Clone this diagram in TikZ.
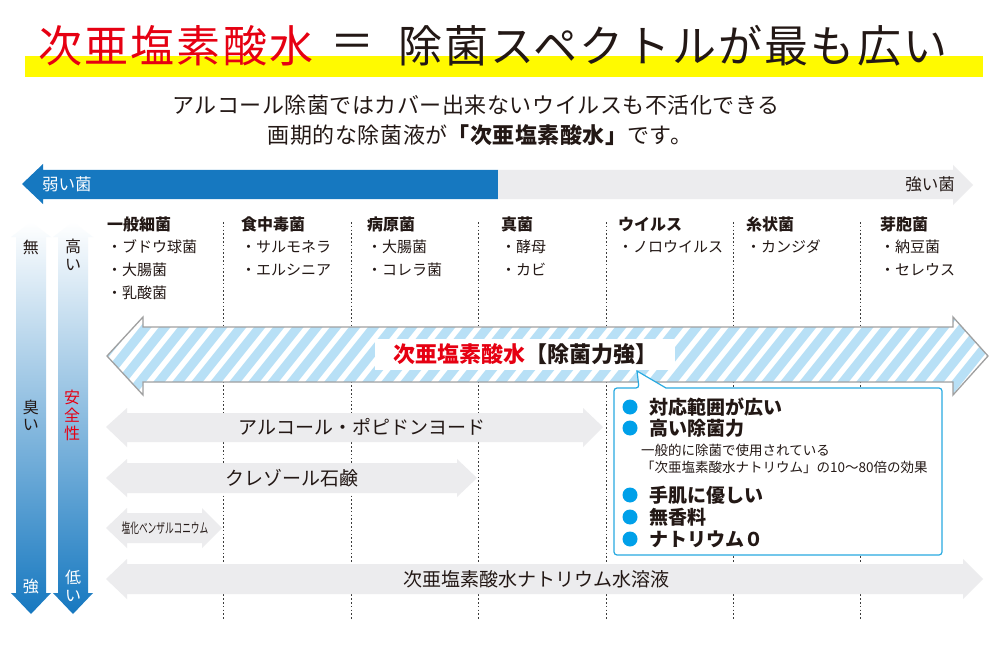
\documentclass[tikz,border=0pt]{standalone}
\usepackage{fontspec}
\setmainfont{Noto Sans CJK JP}
\definecolor{titred}{RGB}{230,0,18}
\definecolor{yel}{RGB}{255,250,0}
\definecolor{barblue}{RGB}{22,120,192}
\definecolor{bargray}{RGB}{236,236,238}
\definecolor{txt}{RGB}{35,24,21}
\definecolor{stripeblue}{RGB}{184,224,246}
\definecolor{outl}{RGB}{160,160,160}
\definecolor{cyanb}{RGB}{0,160,233}
\definecolor{boxb}{RGB}{40,170,225}
\definecolor{dotc}{RGB}{60,60,60}
\definecolor{gradmid}{RGB}{135,188,228}
\tikzset{
  fs/.style={font=\fontsize{#1}{#1}\selectfont},
  fsb/.style={font=\fontsize{#1}{#1}\selectfont\bfseries},
  titlefont/.style={font=\fontsize{44}{44}\selectfont\addfontfeatures{LetterSpace=5}},
  subfont/.style={font=\fontsize{22}{22}\selectfont\addfontfeatures{LetterSpace=2.4}},
  colhead/.style={anchor=west, fsb=16},
  colitem/.style={anchor=west, fs=15},
  divline/.style={dotc, line width=0.9pt, dash pattern=on 1.6pt off 2.2pt},
  grayarr/.style={fill=bargray},
  vshade/.style={top color=white, middle color=gradmid, bottom color=barblue},
  vtext/.style={fs=16, align=center},
  bullet/.style={fill=cyanb},
  pointbig/.style={anchor=west, fsb=19},
  pointsmall/.style={anchor=west, fs=13.5},
}
\begin{document}
\begin{tikzpicture}[x=1pt, y=-1pt, every node/.style={inner sep=0pt, text=txt}]
\useasboundingbox (0,0) rectangle (991,650);
\fill[white] (0,0) rectangle (991,650);

% title
\fill[yel] (25,56) rectangle (983,77);
\node[anchor=west, titlefont, text=titred] (t1) at (38,46) {次亜塩素酸水};
\node[fs=44] (teq) at (352,46) {＝};
\node[anchor=west, titlefont] (t2) at (398,46) {除菌スペクトルが最も広い};

% subtitle
\node[subfont] (s1) at (476,105) {アルコール除菌ではカバー出来ないウイルスも不活化できる};
\node[subfont] (s2) at (480,135) {画期的な除菌液が{\bfseries 「次亜塩素酸水」}です。};

% top bar
\fill[barblue] (22,184) -- (43,164) -- (43,170) -- (498,170) -- (498,199) -- (43,199) -- (43,204) -- cycle;
\fill[bargray] (498,170) -- (953,170) -- (953,165) -- (973,185) -- (953,205) -- (953,199) -- (498,199) -- cycle;
\node[anchor=west, fs=16.5, text=white] (weak) at (42,184.5) {弱い菌};
\node[anchor=east, fs=16.5] (strong) at (955,184.5) {強い菌};

% dotted dividers
\foreach \xx in {223,351,478,606,733,860}
  \draw[divline] (\xx,222) -- (\xx,620);

% column headers and items
\node[colhead] (h1) at (107,224) {一般細菌};
\node[colitem] (h1a) at (107,247) {・ブドウ球菌};
\node[colitem] (h1b) at (107,270) {・大腸菌};
\node[colitem] (h1c) at (107,293) {・乳酸菌};
\node[colhead] (h2) at (241,224) {食中毒菌};
\node[colitem] (h2a) at (241,247) {・サルモネラ};
\node[colitem] (h2b) at (241,270) {・エルシニア};
\node[colhead] (h3) at (367,224) {病原菌};
\node[colitem] (h3a) at (367,247) {・大腸菌};
\node[colitem] (h3b) at (367,270) {・コレラ菌};
\node[colhead] (h4) at (501,224) {真菌};
\node[colitem] (h4a) at (501,247) {・酵母};
\node[colitem] (h4b) at (501,270) {・カビ};
\node[colhead] (h5) at (618,224) {ウイルス};
\node[colitem] (h5a) at (618,247) {・ノロウイルス};
\node[colhead] (h6) at (746,224) {糸状菌};
\node[colitem] (h6a) at (746,247) {・カンジダ};
\node[colhead] (h7) at (880,224) {芽胞菌};
\node[colitem] (h7a) at (880,247) {・納豆菌};
\node[colitem] (h7b) at (880,270) {・セレウス};

% vertical gradient arrows
\shade[vshade] (31,222) -- (51,237) -- (46,237) -- (46,593) -- (51,593) -- (31,614) -- (11,593) -- (16,593) -- (16,237) -- (11,237) -- cycle;
\shade[vshade] (73,222) -- (93,237) -- (88,237) -- (88,593) -- (93,593) -- (73,614) -- (53,593) -- (58,593) -- (58,237) -- (53,237) -- cycle;
\node[vtext] (v1) at (31,247) {無};
\node[fs=16] (v2a) at (73,246) {高};
\node[fs=16] (v2b) at (73,265) {い};
\node[fs=16] (v3a) at (31,407) {臭};
\node[fs=16] (v3b) at (31,425) {い};
\node[fs=16, text=titred] (v4a) at (72,397) {安};
\node[fs=16, text=titred] (v4b) at (72,415) {全};
\node[fs=16, text=titred] (v4c) at (72,433) {性};
\node[fs=16, text=white] (v5) at (31,586) {強};
\node[fs=16, text=white] (v6a) at (73,577) {低};
\node[fs=16, text=white] (v6b) at (73,596) {い};

% striped main arrow
\begin{scope}
  \clip (107,356) -- (143,317) -- (143,327) -- (953,327) -- (953,317) -- (988,356) -- (953,395) -- (953,382) -- (143,382) -- (143,395) -- cycle;
  \fill[stripeblue] (100,310) rectangle (991,400);
  \foreach \i in {40,59,...,1000}
    \draw[white, line width=5.5pt] (\i,400) -- (\i+72,310);
\end{scope}
\draw[outl, line width=1.3pt, line join=miter] (107,356) -- (143,317) -- (143,327) -- (953,327) -- (953,317) -- (988,356) -- (953,395) -- (953,382) -- (143,382) -- (143,395) -- cycle;
\node[fill=white, minimum width=300pt, minimum height=31pt, fsb=22] (lbl) at (525,354.5) {{\color{titred}次亜塩素酸水}【除菌力強】};

% gray arrows
\fill[grayarr] (106,427) -- (127,408) -- (127,413) -- (583,413) -- (583,408) -- (603,427) -- (583,447) -- (583,442) -- (127,442) -- (127,447) -- cycle;
\node[fs=19] (a1) at (362,427) {アルコール・ポピドンヨード};
\fill[grayarr] (106,478) -- (127,459) -- (127,463) -- (457,463) -- (457,459) -- (477,478) -- (457,497) -- (457,493) -- (127,493) -- (127,497) -- cycle;
\node[fs=19] (a2) at (292,478) {クレゾール石鹸};
\fill[grayarr] (106,528) -- (127,508) -- (127,513) -- (202,513) -- (202,508) -- (222,528) -- (202,548) -- (202,543) -- (127,543) -- (127,548) -- cycle;
\node[fs=14] (a3) at (165,528) {\scalebox{0.62}[1]{塩化ベンザルコニウム}};
\fill[grayarr] (106,579) -- (127,559) -- (127,564) -- (963,564) -- (963,559) -- (983,579) -- (963,599) -- (963,594) -- (127,594) -- (127,599) -- cycle;
\node[fs=19] (a4) at (536,579) {次亜塩素酸水ナトリウム水溶液};

% callout
\draw[boxb, line width=1.2pt, fill=white, rounded corners=3pt] (614,388) -- (639,388) [sharp corners] -- (637,371) -- (666,388) [rounded corners=3pt] -- (942,388) -- (942,555) -- (614,555) -- cycle;
\fill[bullet] (630,407) circle (7.5);
\fill[bullet] (630,428) circle (7.5);
\fill[bullet] (630,495) circle (7.5);
\fill[bullet] (630,517) circle (7.5);
\fill[bullet] (630,539) circle (7.5);
\node[pointbig] (p1) at (649,407) {対応範囲が広い};
\node[pointbig] (p2) at (649,428) {高い除菌力};
\node[pointsmall] (p2a) at (641,450) {一般的に除菌で使用されている};
\node[pointsmall] (p2b) at (641,467) {「次亜塩素酸水ナトリウム」の10～80倍の効果};
\node[pointbig] (p3) at (649,495) {手肌に優しい};
\node[pointbig] (p4) at (649,517) {無香料};
\node[pointbig] (p5) at (649,539) {ナトリウム０};
\end{tikzpicture}
\end{document}
